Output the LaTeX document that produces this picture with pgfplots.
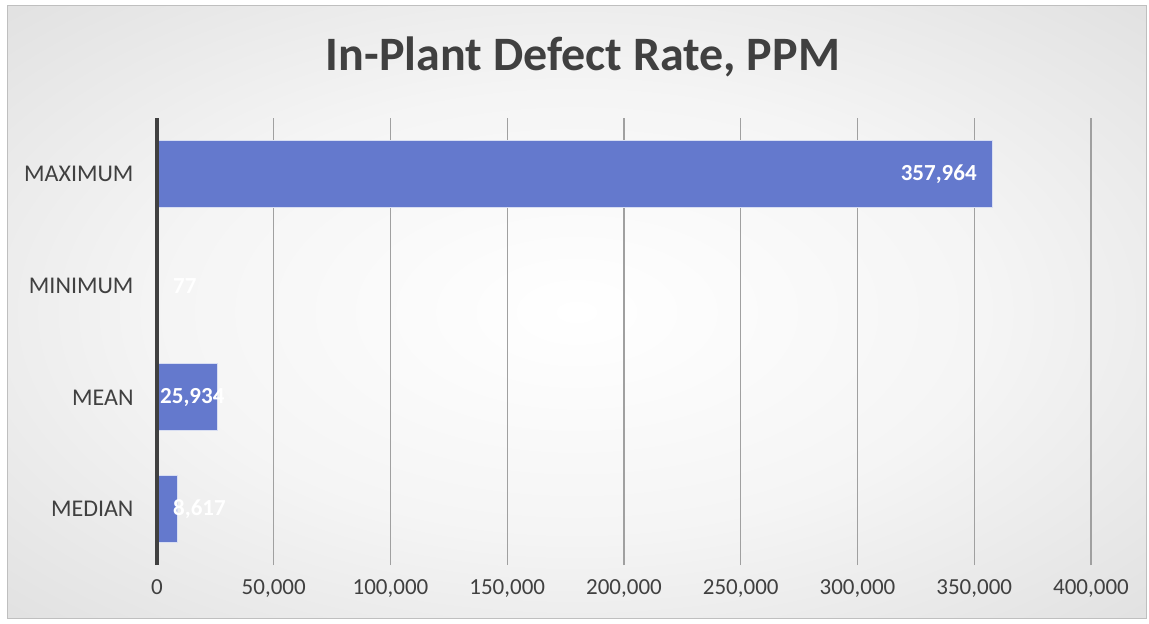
\documentclass[border=0pt]{standalone}
\usepackage{pgfplots}
\pgfplotsset{compat=1.18}
\usepackage{fontspec}
\setmainfont{Carlito}
\definecolor{txt}{HTML}{404040}
\definecolor{barc}{HTML}{6479CD}
\definecolor{gridc}{HTML}{A0A0A0}
\pgfdeclareradialshading{bgshade}{\pgfpoint{0bp}{0bp}}{color(0bp)=(white); color(18bp)=(white!96!black); color(50bp)=(white!82!black); color(71bp)=(white!76!black)}
\begin{document}
\begin{tikzpicture}[x=1bp,y=1bp]
\useasboundingbox (0,0) rectangle (1149,-624);
\fill[white] (0,0) rectangle (1149,-624);
\shade[shading=bgshade] (7,-6) rectangle (1146,-618);
\draw[color=white!75!black, line width=1bp] (7,-6) rectangle (1146,-618);
\node[font=\fontsize{48bp}{56bp}\selectfont\bfseries, text=txt] at (583,-57) {In-Plant Defect Rate, PPM};
\begin{axis}[
  at={(157bp,-565bp)}, anchor=south west,
  scale only axis, width=934bp, height=447bp,
  xbar, bar width=67bp, bar shift=0pt,
  xmin=0, xmax=400000, ymin=-0.5, ymax=3.5,
  xtick={0,50000,...,400000},
  ytick={0,1,2,3},
  yticklabels={MEDIAN,MEAN,MINIMUM,MAXIMUM},
  scaled x ticks=false,
  /pgf/number format/.cd, fixed, 1000 sep={,}, assume math mode=true, /pgfplots/.cd,
  xmajorgrids, grid style={color=gridc, line width=1.3bp},
  major tick length=0pt,
  axis line style={draw=none},
  tick label style={font=\fontsize{23bp}{27bp}\selectfont, text=txt},
  xticklabel style={yshift=-11bp},
  yticklabel style={xshift=-20bp, font=\fontsize{24bp}{28bp}\selectfont},
  clip=false,
]
\addplot[fill=barc, draw=white!75!barc, line width=1bp] coordinates {
  (8617,0) (25934,1) (77,2) (357964,3)};
\draw[color=txt, line width=3.2bp] (axis cs:0,-0.5) -- (axis cs:0,3.5);
\begin{scope}[every node/.style={font=\fontsize{23bp}{27bp}\selectfont\bfseries, text=white, inner sep=0pt}]
\node[anchor=east] at (axis cs:357964,3) [xshift=-16bp] {357,964};
\node[anchor=west] at (axis cs:0,2) [xshift=16bp] {77};
\node[anchor=west] at (axis cs:0,1) [xshift=3bp] {25,934};
\node[anchor=west] at (axis cs:0,0) [xshift=16bp] {8,617};
\end{scope}
\end{axis}
\end{tikzpicture}
\end{document}
